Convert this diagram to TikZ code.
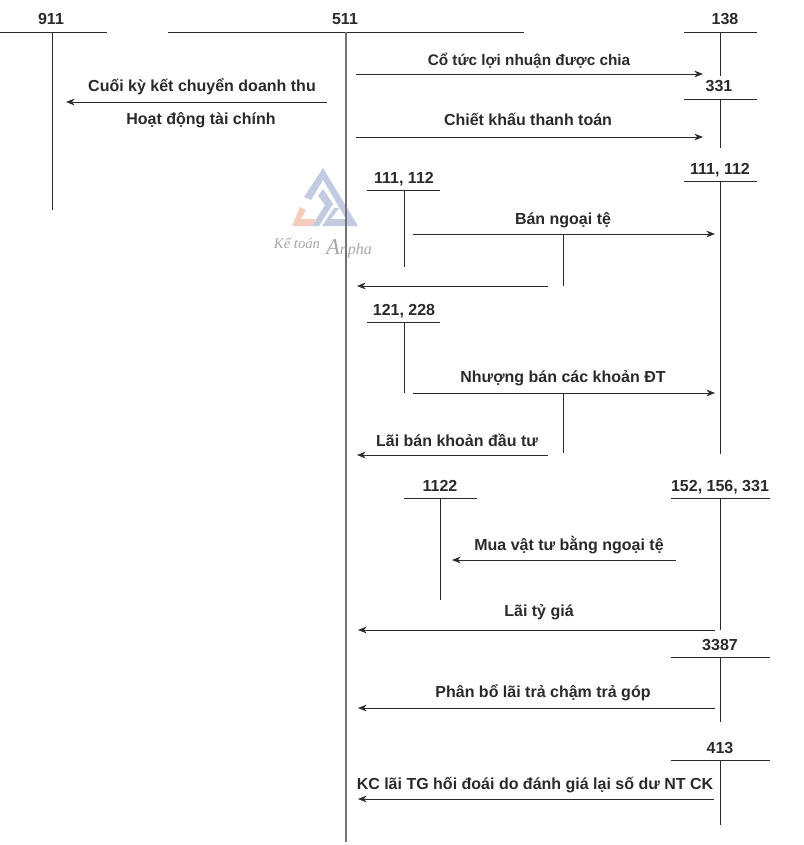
\documentclass[tikz,border=0pt]{standalone}
\usepackage{fontspec}
\usetikzlibrary{arrows.meta}
\setmainfont{Liberation Sans}
\newfontfamily\markfont{Liberation Serif}
\definecolor{markblue}{HTML}{C3CBE0}
\definecolor{markred}{HTML}{F4CDBD}
\definecolor{ink}{HTML}{2A2A2A}
\tikzset{
  lbl/.style={font=\fontsize{12}{14}\bfseries\selectfont,text=ink,inner sep=0,anchor=base},
  acc/.style={draw=ink,line width=0.55pt},
  main/.style={draw=black!55,line width=1.1pt},
  flow/.style={draw=ink,line width=0.55pt,-{Stealth[length=6.5pt,width=5pt]}}
}
\begin{document}
\begin{tikzpicture}[x=0.75pt,y=-0.75pt]
        \useasboundingbox (0,0) rectangle (803,845);
        % watermark
        \fill[markblue] (323,168) -- (358,226) -- (322,226) -- (334,208) -- (339,208) -- (331,219) -- (346,219) -- (323,180) -- (311,200) -- (304,197) -- cycle;
        \fill[markblue] (323,189) -- (333,204) -- (319,226) -- (312,226) -- (325,205) -- (318,196) -- cycle;
        \fill[markred] (300,207) -- (306,210) -- (301,219) -- (316,219) -- (312,226) -- (292,226) -- cycle;
        \node[font=\markfont\itshape\fontsize{11}{12}\selectfont,text=black!35,inner sep=0] (brand1) at (297,243) {Kế toán};
        \node[font=\markfont\itshape\fontsize{12}{12}\selectfont,text=black!35,inner sep=0] (brand2) at (349,249) {{\fontsize{17}{17}\selectfont A}npha};
        % account heads
        \node[lbl] (t911) at (51,25) {911};
        \node[lbl] (t511) at (345,25) {511};
        \node[lbl] (t138) at (725,25) {138};
        \node[lbl] (t331) at (719,92) {331};
        \node[lbl] (t111r) at (720,174) {111, 112};
        \node[lbl] (t111l) at (404,183) {111, 112};
        \node[lbl] (t121) at (404,315) {121, 228};
        \node[lbl] (t1122) at (440,491) {1122};
        \node[lbl] (t152) at (720,491) {152, 156, 331};
        \node[lbl] (t3387) at (720,650) {3387};
        \node[lbl] (t413) at (720,753) {413};
        % T rules
        \draw[acc] (0,32) -- (107,32) (52,32) -- (52,210);
        \draw[acc] (168,32) -- (524,32);
        \draw[main] (346,32) -- (346,842);
        \draw[acc] (684,32) -- (757,32) (720,32) -- (720,76);
        \draw[acc] (684,99) -- (757,99) (720,99) -- (720,148);
        \draw[acc] (684,181) -- (757,181) (720,181) -- (720,454);
        \draw[acc] (367,190) -- (440,190) (404,190) -- (404,267);
        \draw[acc] (367,322) -- (440,322) (404,322) -- (404,393);
        \draw[acc] (404,498) -- (477,498) (440,498) -- (440,600);
        \draw[acc] (671,498) -- (770,498) (720,498) -- (720,630);
        \draw[acc] (671,657) -- (770,657) (720,657) -- (720,722);
        \draw[acc] (671,760) -- (770,760) (720,760) -- (720,825);
        \draw[acc] (563,234) -- (563,286);
        \draw[acc] (563,393) -- (563,453);
        % flows
        \coordinate (a1) at (356,74);  \coordinate (b1) at (703,74);
        \coordinate (a2) at (327,102); \coordinate (b2) at (66,102);
        \coordinate (a3) at (356,137); \coordinate (b3) at (703,137);
        \coordinate (a4) at (413,234); \coordinate (b4) at (715,234);
        \coordinate (a5) at (548,286); \coordinate (b5) at (357,286);
        \coordinate (a6) at (413,393); \coordinate (b6) at (715,393);
        \coordinate (a7) at (548,455); \coordinate (b7) at (357,455);
        \coordinate (a8) at (676,560); \coordinate (b8) at (452,560);
        \coordinate (a9) at (715,630); \coordinate (b9) at (358,630);
        \coordinate (a10) at (715,708); \coordinate (b10) at (358,708);
        \coordinate (a11) at (714,799); \coordinate (b11) at (358,799);
        \foreach \i in {1,...,11} \draw[flow] (a\i) -- (b\i);
        % labels
        \node[lbl,font=\fontsize{11.5}{14}\bfseries\selectfont] (l1) at (529,66) {Cổ tức lợi nhuận được chia};
        \node[lbl] (l2) at (202,92) {Cuối kỳ kết chuyển doanh thu};
        \node[lbl] (l3) at (201,125) {Hoạt động tài chính};
        \node[lbl] (l4) at (528,126) {Chiết khấu thanh toán};
        \node[lbl] (l5) at (563,224) {Bán ngoại tệ};
        \node[lbl] (l6) at (563,382) {Nhượng bán các khoản ĐT};
        \node[lbl] (l7) at (457,446) {Lãi bán khoản đầu tư};
        \node[lbl] (l8) at (569,550) {Mua vật tư bằng ngoại tệ};
        \node[lbl] (l9) at (539,616) {Lãi tỷ giá};
        \node[lbl] (l10) at (543,697) {Phân bổ lãi trả chậm trả góp};
        \node[lbl] (l11) at (535,789) {KC lãi TG hối đoái do đánh giá lại số dư NT CK};
      \end{tikzpicture}
\end{document}
